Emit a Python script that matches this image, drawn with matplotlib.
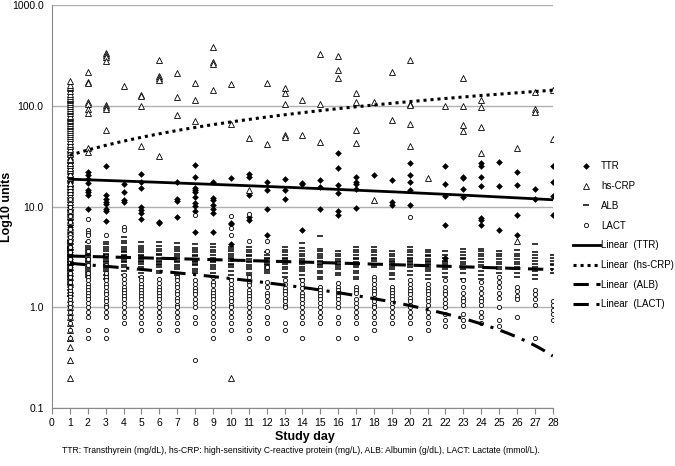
import numpy as np
import matplotlib
matplotlib.use("Agg")
import matplotlib.pyplot as plt

plt.rcParams['font.family'] = ['Liberation Sans', 'DejaVu Sans']

# values per study day (index 0 = day 1)
ttr = [
    [2.2, 2.5, 2.8, 3, 3.2, 3.5, 3.8, 4, 4.3, 4.5, 4.8, 5, 5.3, 5.5, 5.8, 6, 6.3, 6.5, 6.8, 7,
     7.3, 7.5, 7.8, 8, 8.3, 8.5, 8.8, 9, 9.3, 9.5, 9.8, 10, 10.5, 11, 11.5, 12, 12.5, 13, 13.5,
     14, 14.5, 15, 15.5, 16, 16.5, 17, 17.5, 18, 18.5, 19, 19.5, 20, 21, 22, 23, 24, 25, 26, 27,
     28, 29, 30, 32, 34, 36, 38, 42],
    [22, 20.5, 18.7, 17.3, 14.5, 13.8, 13.1, 9.4],
    [25, 12.9, 11.8, 11.1, 10.5, 9.5, 9.0, 7.2],
    [16.9, 13.8, 11.6, 11.1],
    [21, 17.6, 15.4, 9.9, 9.2, 8.7, 7.6],
    [7.1, 6.9],
    [17.6, 11.8, 11.4, 7.9],
    [26, 19.7, 15.4, 14.5, 13.8, 12.3, 10.9, 10.1, 9.0, 5.6],
    [17.6, 12.2, 11.6, 10.3, 9.5, 8.7, 5.6],
    [19.4, 6.9, 6.7, 4.2],
    [21, 19.7, 12.9, 7.8, 7.4],
    [17.6, 14.5, 9.5, 5.2],
    [18.7, 14.5, 11.8],
    [17.3, 16.9, 5.8],
    [18.2, 15.7, 9.5],
    [34, 24, 16.3, 13.5, 9.0, 8.2],
    [19.7, 17.6, 16.9, 15.1, 9.7],
    [20.5],
    [18.2, 11.1, 10.3],
    [27, 20.5, 17.6, 14.5, 10.4],
    [],
    [25, 16.9, 12.7, 6.5, 3.1],
    [19.7, 19.2, 15.1, 12.5],
    [27, 25, 19.7, 16.0, 7.7, 7.3, 6.6],
    [27.5, 16.0, 5.8],
    [22, 16.3, 8.2, 5.2],
    [15, 11.9],
    [25, 17.4, 12.7, 8.2],
]

crp = [
    [0.2, 0.3, 0.4, 0.5, 0.5, 0.6, 0.7, 0.8, 0.9, 1.0, 1.1, 1.2, 1.4, 1.5, 1.7, 1.8, 2.0, 2.2,
     2.5, 2.8, 3, 3.5, 4, 4.5, 5, 5.5, 6, 7, 8, 9, 10, 11, 12, 13, 14, 15, 16, 17, 19, 21, 23,
     24, 26, 27, 29, 30, 33, 35, 37, 40, 42, 45, 48, 50, 52, 55, 58, 60, 63, 65, 68, 70, 73,
     75, 78, 80, 85, 88, 90, 95, 100, 105, 110, 115, 118, 120, 125, 130, 140, 150, 155, 160, 175],
    [217, 173, 169, 109, 105, 94, 84, 38, 35],
    [338, 318, 302, 279, 101, 98, 94, 57],
    [157],
    [129, 125, 99, 40],
    [284, 197, 187, 180, 32],
    [212, 123, 82],
    [170, 114, 71],
    [385, 273, 259, 143],
    [166, 66, 0.2],
    [48, 14.5],
    [170, 42],
    [149, 134, 105, 51, 49],
    [114, 51],
    [330, 105, 44],
    [311, 226, 191],
    [134, 109, 57, 43],
    [109, 11.7],
    [217, 72],
    [284, 105, 101, 66, 40],
    [19.4],
    [99],
    [191, 99, 64, 56],
    [114, 98, 61, 34],
    [],
    [38, 4.5],
    [138, 94, 86],
    [143, 47],
]

alb = [
    [4.5, 4.3, 4.1, 4.0, 3.9, 3.8, 3.7, 3.6, 3.5, 3.4, 3.3, 3.2, 3.1, 3.0, 2.9, 2.8, 2.7, 2.6,
     2.5, 2.4, 2.3, 2.2, 2.1, 2.0, 1.9, 1.8, 1.7, 1.5, 1.3],
    [4.4, 4.1, 3.9, 3.7, 3.5, 3.4, 3.3, 3.2, 3.1, 3.0, 2.9, 2.8, 2.7, 2.6, 2.5, 2.4, 2.3, 2.2, 2.1, 2.0],
    [4.4, 4.2, 4.0, 3.8, 3.6, 3.4, 3.3, 3.2, 3.0, 2.9, 2.8, 2.7, 2.6, 2.5, 2.4, 2.3, 2.1, 1.9],
    [5.0, 4.6, 4.3, 4.0, 3.8, 3.6, 3.5, 3.3, 3.2, 3.0, 2.9, 2.8, 2.6, 2.5, 2.3, 2.1],
    [4.4, 4.1, 3.9, 3.7, 3.5, 3.3, 3.2, 3.1, 3.0, 2.9, 2.8, 2.7, 2.5, 2.4, 2.2, 2.0],
    [4.4, 4.1, 3.8, 3.6, 3.4, 3.3, 3.1, 3.0, 2.9, 2.8, 2.7, 2.6, 2.5, 2.3, 2.2],
    [4.3, 4.0, 3.8, 3.6, 3.4, 3.2, 3.1, 3.0, 2.9, 2.8, 2.6, 2.5, 2.4, 2.2, 2.1],
    [4.2, 3.9, 3.7, 3.5, 3.3, 3.2, 3.0, 2.9, 2.8, 2.7, 2.6, 2.4, 2.3, 2.2],
    [4.2, 4.0, 3.7, 3.5, 3.3, 3.1, 3.0, 2.9, 2.8, 2.6, 2.5, 2.4, 2.2, 2.0],
    [4.0, 3.8, 3.6, 3.4, 3.2, 3.1, 3.0, 2.9, 2.7, 2.6, 2.5, 2.3, 2.1, 1.9],
    [4.0, 3.7, 3.5, 3.3, 3.2, 3.0, 2.9, 2.8, 2.6, 2.5, 2.4, 2.2, 2.1],
    [3.5, 3.3, 3.1, 3.0, 2.9, 2.8, 2.7, 2.6, 2.5, 2.4, 2.3, 2.2],
    [4.0, 3.7, 3.5, 3.3, 3.1, 3.0, 2.9, 2.8, 2.7, 2.5, 2.4, 2.2, 2.0],
    [4.3, 3.9, 3.6, 3.4, 3.2, 3.0, 2.9, 2.8, 2.7, 2.5, 2.4, 2.3, 2.1, 1.9],
    [5.1, 3.8, 3.6, 3.4, 3.2, 3.1, 2.9, 2.8, 2.7, 2.6, 2.5, 2.3, 2.2, 2.0, 1.9],
    [3.6, 3.4, 3.2, 3.0, 2.9, 2.8, 2.7, 2.6, 2.5, 2.4, 2.2, 2.1],
    [4.0, 3.7, 3.5, 3.3, 3.1, 3.0, 2.8, 2.7, 2.6, 2.5, 2.3, 2.2, 2.0, 1.9],
    [4.0, 3.7, 3.5, 3.3, 3.1, 3.0, 2.9, 2.7, 2.6, 2.5],
    [3.6, 3.4, 3.2, 3.0, 2.9, 2.8, 2.7, 2.6, 2.5, 2.4, 2.2, 2.1, 1.9],
    [4.0, 3.7, 3.5, 3.3, 3.1, 3.0, 2.9, 2.8, 2.7, 2.6, 2.5, 2.3, 2.1],
    [3.7, 3.5, 3.3, 3.2, 3.0, 2.9, 2.8, 2.7, 2.6, 2.5, 2.4, 2.3, 2.1, 1.9],
    [3.6, 3.3, 3.1, 2.9, 2.8, 2.7, 2.5, 2.4, 2.2, 2.0],
    [3.8, 3.5, 3.3, 3.1, 3.0, 2.8, 2.7, 2.5, 2.4, 2.2, 1.9],
    [3.8, 3.6, 3.4, 3.2, 3.0, 2.8, 2.6, 2.5, 2.3, 2.1, 1.9],
    [3.6, 3.4, 3.2, 3.0, 2.8, 2.7, 2.5, 2.4, 2.2],
    [3.7, 3.4, 3.2, 3.0, 2.8, 2.7, 2.5, 2.4, 2.2, 2.0],
    [4.2, 3.5, 3.3, 3.1, 2.9, 2.7, 2.5, 2.3, 2.1, 1.9],
    [3.3, 3.1, 2.9, 2.7, 2.6, 2.4, 2.2],
]

lact = [
    [0.5, 0.6, 0.7, 0.8, 0.9, 1.0, 1.1, 1.2, 1.3, 1.4, 1.5, 1.6, 1.8, 2.0, 2.2, 2.5, 2.8, 3.0,
     3.5, 4, 4.5, 5, 6, 7, 8, 9, 10, 12],
    [7.5, 5.9, 5.5, 5.2, 4.6, 3.6, 3.0, 2.6, 2.2, 2.0, 1.85, 1.7, 1.6, 1.5, 1.4, 1.3, 1.2, 1.1,
     1.0, 0.9, 0.8, 0.6, 0.5],
    [5.2, 3.2, 2.6, 2.2, 2.0, 1.85, 1.7, 1.6, 1.45, 1.35, 1.25, 1.15, 1.05, 1.0, 0.9, 0.8, 0.6, 0.5],
    [6.3, 5.8, 2.1, 1.9, 1.75, 1.6, 1.5, 1.4, 1.3, 1.2, 1.1, 1.0, 0.9, 0.8, 0.7],
    [2.0, 1.85, 1.7, 1.6, 1.5, 1.4, 1.3, 1.2, 1.1, 1.0, 0.9, 0.8, 0.7, 0.6],
    [1.9, 1.75, 1.6, 1.5, 1.4, 1.3, 1.2, 1.1, 1.0, 0.9, 0.8, 0.7, 0.6],
    [2.0, 1.85, 1.7, 1.6, 1.45, 1.35, 1.25, 1.15, 1.05, 1.0, 0.9, 0.8, 0.7, 0.6],
    [8.2, 1.85, 1.7, 1.55, 1.45, 1.35, 1.2, 1.1, 1.0, 0.8, 0.7, 0.3],
    [2.0, 1.8, 1.65, 1.5, 1.4, 1.3, 1.2, 1.1, 1.0, 0.9, 0.8, 0.7, 0.6, 0.5],
    [8.0, 6.1, 5.2, 1.85, 1.7, 1.55, 1.45, 1.35, 1.25, 1.15, 1.05, 1.0, 0.9, 0.8, 0.7, 0.6],
    [8.5, 4.5, 2.0, 1.8, 1.65, 1.5, 1.4, 1.3, 1.2, 1.1, 1.0, 0.9, 0.8, 0.7, 0.6, 0.5],
    [4.5, 3.6, 2.5, 1.8, 1.6, 1.4, 1.3, 1.15, 1.0, 0.8, 0.7, 0.5],
    [1.85, 1.7, 1.55, 1.45, 1.35, 1.25, 1.15, 1.05, 1.0, 0.7, 0.6],
    [1.85, 1.7, 1.55, 1.4, 1.3, 1.2, 1.1, 1.0, 0.9, 0.8, 0.7, 0.5],
    [1.6, 1.5, 1.4, 1.3, 1.2, 1.1, 1.0, 0.9, 0.8, 0.7],
    [1.75, 1.6, 1.5, 1.4, 1.3, 1.2, 1.1, 1.0, 0.8, 0.7, 0.5],
    [1.6, 1.5, 1.4, 1.2, 1.1, 1.0, 0.9, 0.8, 0.7, 0.5],
    [2.0, 1.85, 1.7, 1.55, 1.45, 1.35, 1.25, 1.15, 1.05, 1.0, 0.9, 0.8, 0.7, 0.6],
    [1.6, 1.5, 1.4, 1.3, 1.2, 1.1, 1.0, 0.9, 0.8, 0.7],
    [7.9, 1.85, 1.7, 1.55, 1.45, 1.35, 1.25, 1.15, 1.05, 1.0, 0.9, 0.8, 0.7, 0.5],
    [1.7, 1.55, 1.45, 1.35, 1.25, 1.15, 1.05, 0.9, 0.8, 0.7, 0.6],
    [1.85, 1.6, 1.45, 1.35, 1.2, 1.1, 1.0, 0.85, 0.75, 0.65],
    [1.85, 1.6, 1.4, 1.25, 1.15, 1.05, 0.85, 0.75, 0.65],
    [1.8, 1.55, 1.4, 1.25, 1.15, 1.05, 0.9, 0.8, 0.7],
    [2.0, 1.8, 1.6, 1.4, 1.25, 1.0, 0.75, 0.65],
    [1.6, 1.45, 1.3, 1.2, 0.8],
    [1.5, 1.35, 1.2, 1.05, 0.5],
    [1.15, 1.05, 0.95, 0.85, 0.75],
]

# linear trendlines (slope, intercept) as shown by the spreadsheet
ttr_fit = [-0.26, 18.96]
crp_fit = [4.1, 28.2]
alb_fit = [-0.032, 3.26]
lact_fit = [-0.089, 2.82]

caption = ("TTR: Transthyrein (mg/dL), hs-CRP: high-sensitivity C-reactive protein (mg/L), "
           "ALB: Albumin (g/dL), LACT: Lactate (mmol/L).")


def flat(series):
    xs, ys = [], []
    for d, vals in enumerate(series, start=1):
        xs += [d] * len(vals)
        ys += vals
    return xs, ys


fig = plt.figure(figsize=(6.75, 4.66), dpi=100)
ax = fig.add_axes([0.077, 0.1245, 0.742, 0.8645])

x, y = flat(ttr)
ax.plot(x, y, 'D', ms=3.4, color='black', mew=0, label='TTR', zorder=3)
x, y = flat(crp)
ax.plot(x, y, '^', ms=4, mfc='white', mec='black', mew=0.6, label='hs-CRP', zorder=3)
x, y = flat(alb)
ax.plot(x, y, '_', ms=5, color='black', mew=1.1, label='ALB', zorder=3)
x, y = flat(lact)
ax.plot(x, y, 'o', ms=3, mfc='white', mec='black', mew=0.6, label='LACT', zorder=3)

xx = np.linspace(1, 28, 300)
ax.plot(xx, ttr_fit[0] * xx + ttr_fit[1], '-', color='black', lw=2, label='Linear  (TTR)', zorder=4)
ax.plot(xx, crp_fit[0] * xx + crp_fit[1], color='black', lw=2.2, dashes=(1, 1.3),
        label='Linear  (hs-CRP)', zorder=4)
ax.plot(xx, alb_fit[0] * xx + alb_fit[1], color='black', lw=2.2, dashes=(5, 2.5),
        label='Linear  (ALB)', zorder=4)
ax.plot(xx, lact_fit[0] * xx + lact_fit[1], color='black', lw=2.2, dashes=(5, 2.5, 1, 2.5),
        label='Linear  (LACT)', zorder=4)

ax.set_yscale('log')
ax.set_ylim(0.1, 1000)
ax.set_xlim(0, 28)
ax.set_yticks([0.1, 1, 10, 100, 1000])
ax.set_yticklabels(['0.1', '1.0', '10.0', '100.0', '1000.0'])
ax.yaxis.set_minor_locator(matplotlib.ticker.NullLocator())
ax.set_xticks(range(0, 29))
ax.tick_params(axis='y', length=0, labelsize=7.5, pad=6)
ax.tick_params(axis='x', length=4, color='#888888', labelsize=7.5, pad=3)
ax.grid(axis='y', color='#b0b0b0', lw=1)
ax.set_axisbelow(True)
for s in ['top', 'right']:
    ax.spines[s].set_visible(False)
ax.spines['left'].set_color('#888888')
ax.spines['bottom'].set_color('#888888')

ax.set_xlabel('Study day', fontsize=9, fontweight='bold')
ax.xaxis.set_label_coords(0.505, -0.058)
ax.set_ylabel('Log10 units', fontsize=9, fontweight='bold')
ax.yaxis.set_label_coords(-0.077, 0.5)

ax.legend(loc='upper left', bbox_to_anchor=(1.04, 0.612), frameon=False, fontsize=7,
          handlelength=2.8, handletextpad=0.1, labelspacing=1.0, borderaxespad=0,
          borderpad=0)

fig.text(0.446, 0.028, caption, ha='center', fontsize=6.2)

fig.savefig('out.png', dpi=100)
